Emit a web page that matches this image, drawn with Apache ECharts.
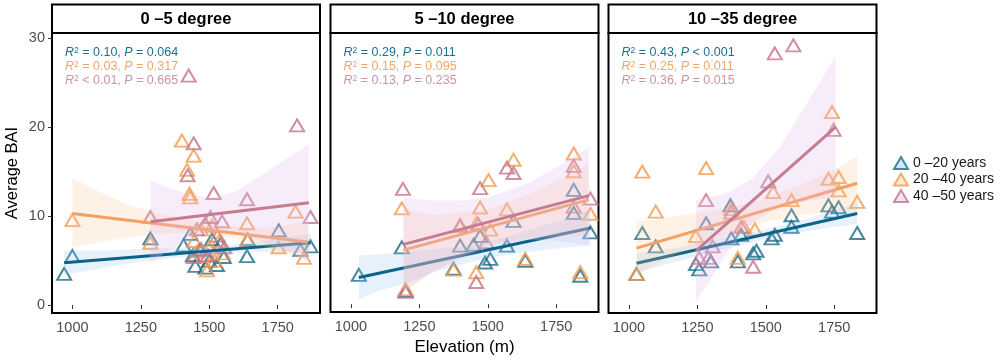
<!DOCTYPE html>
<html><head><meta charset="utf-8">
<script src="https://cdn.jsdelivr.net/npm/echarts@6/dist/echarts.min.js"></script>
<style>html,body{margin:0;padding:0;background:#fff}#c{width:1000px;height:361px}</style>
</head><body><div id="c"></div>
<script>
// ---------- data ----------
const panelTitles = ['0 \u20135 degree', '5 \u201310 degree', '10 \u201335 degree'];
const groupNames = ['0 \u201320 years', '20 \u201340 years', '40 \u201350 years'];
const xTicks = [1000, 1250, 1500, 1750];
const yTicks = [0, 10, 20, 30];

// points: [elevation (m), average BAI]
const p1_g1 = [[970,3.5],[1000,5.5],[1285,7.5],[1406,6.7],[1431,8.0],[1440,5.6],[1449,4.4],[1465,6.2],[1486,4.2],[1500,5.0],[1510,7.4],[1528,4.5],[1541,6.9],[1553,5.4],[1638,5.5],[1640,7.4],[1754,8.4],[1833,6.2],[1870,6.6]];
const p1_g2 = [[1000,9.55],[1285,7.0],[1400,18.5],[1419,15.2],[1428,12.5],[1430,12.1],[1443,16.8],[1445,7.2],[1455,6.0],[1470,8.5],[1480,5.5],[1492,3.9],[1500,6.5],[1510,8.9],[1520,5.0],[1535,7.2],[1550,5.8],[1638,9.2],[1640,7.3],[1753,6.5],[1815,10.5],[1846,5.3]];
const p1_g3 = [[1285,9.9],[1421,14.6],[1425,25.8],[1443,18.2],[1443,5.4],[1455,8.5],[1470,6.3],[1485,9.2],[1495,5.6],[1504,9.9],[1516,12.6],[1530,7.8],[1547,9.4],[1555,6.5],[1638,11.9],[1821,20.2],[1870,9.9]];

const p2_g1 = [[1029,3.3],[1186,6.4],[1200,1.5],[1375,4.0],[1399,6.6],[1448,6.7],[1472,7.7],[1490,4.7],[1509,5.1],[1570,6.6],[1594,9.4],[1637,4.9],[1814,12.9],[1814,10.3],[1838,3.2],[1875,8.1]];
const p2_g2 = [[1186,10.8],[1200,1.7],[1375,3.9],[1399,8.8],[1458,3.6],[1460,9.2],[1472,10.9],[1503,14.0],[1509,8.4],[1570,10.7],[1594,16.3],[1637,5.1],[1814,17.0],[1814,15.0],[1838,3.6],[1875,10.2]];
const p2_g3 = [[1190,13.0],[1200,1.4],[1399,8.9],[1458,2.5],[1466,9.0],[1472,13.1],[1494,7.0],[1570,15.4],[1594,14.8],[1814,15.6],[1814,11.0],[1875,11.9]];

const p3_g1 = [[1028,3.5],[1049,8.1],[1098,6.6],[1245,4.6],[1257,4.0],[1282,9.2],[1300,4.9],[1371,11.2],[1374,7.5],[1398,4.9],[1410,7.9],[1454,5.8],[1466,6.1],[1521,7.5],[1533,7.9],[1594,10.1],[1594,8.8],[1729,11.2],[1742,10.5],[1766,11.0],[1834,8.1]];
const p3_g2 = [[1028,3.5],[1049,15.0],[1098,10.5],[1245,7.75],[1282,15.4],[1374,10.8],[1398,5.3],[1420,8.8],[1460,8.5],[1527,12.7],[1594,11.8],[1729,14.2],[1742,21.7],[1766,14.4],[1766,12.9],[1834,11.6]];
const p3_g3 = [[1257,5.3],[1282,11.8],[1290,5.3],[1306,6.6],[1374,10.4],[1410,8.8],[1454,4.3],[1509,13.9],[1533,28.3],[1601,29.2],[1748,19.7]];

// fitted lines: [elevation, BAI] at both ends
const fit1_g1 = [[970,4.75],[1870,7.0]];
const fit1_g2 = [[1000,10.3],[1860,7.1]];
const fit1_g3 = [[1285,9.36],[1864,11.5]];
const fit2_g1 = [[1029,3.0],[1875,8.6]];
const fit2_g2 = [[1192,6.1],[1869,11.8]];
const fit2_g3 = [[1192,6.74],[1869,12.25]];
const fit3_g1 = [[1028,4.7],[1834,10.3]];
const fit3_g2 = [[1028,6.4],[1834,13.7]];
const fit3_g3 = [[1245,6.1],[1755,20.0]];

// confidence bands: [elevation, lower, upper]
const band1_g1 = [[970,3.4,6.1],[1100,4.1,6.1],[1250,4.9,6.3],[1400,5.4,6.4],[1500,5.7,6.5],[1650,6.0,7.0],[1750,6.0,7.5],[1870,6.0,8.0]];
const band1_g2 = [[1000,6.4,14.3],[1100,7.1,12.7],[1200,7.6,11.3],[1300,8.0,10.4],[1400,8.1,9.8],[1500,7.9,9.1],[1600,7.5,8.8],[1700,6.6,8.7],[1780,5.8,9.0],[1860,5.0,9.3]];
const band1_g3 = [[1285,4.7,14.0],[1350,6.1,13.2],[1400,6.9,12.7],[1500,8.3,12.0],[1600,8.2,12.8],[1700,7.0,14.8],[1780,6.1,16.4],[1864,5.0,18.1]];
const band2_g1 = [[1029,0.5,5.5],[1100,1.5,5.6],[1200,2.3,5.9],[1300,3.6,6.2],[1400,4.45,6.45],[1500,5.2,7.0],[1650,5.9,8.3],[1760,6.3,9.4],[1875,6.6,10.6]];
const band2_g2 = [[1192,1.5,10.7],[1300,3.7,10.1],[1400,5.35,10.35],[1500,6.7,10.7],[1650,7.5,12.4],[1760,7.7,14.0],[1869,7.8,15.8]];
const band2_g3 = [[1192,1.4,12.0],[1300,3.6,11.7],[1400,5.1,11.7],[1500,6.5,12.0],[1650,7.3,13.7],[1760,7.1,15.6],[1869,6.7,17.7]];
const band3_g1 = [[1028,3.6,5.8],[1150,4.7,6.3],[1300,5.9,7.3],[1400,6.7,7.9],[1500,7.4,8.5],[1650,8.3,9.7],[1750,8.8,10.7],[1834,9.1,11.5]];
const band3_g2 = [[1028,3.4,9.4],[1150,5.4,9.9],[1300,7.2,10.6],[1400,8.4,11.2],[1500,9.4,12.0],[1650,10.2,13.8],[1750,10.5,15.2],[1834,10.7,16.7]];
const band3_g3 = [[1245,0.4,11.8],[1300,3.0,12.2],[1350,5.5,12.5],[1450,9.2,14.2],[1550,11.1,17.7],[1650,11.7,22.7],[1700,11.9,25.2],[1755,12.0,28.0]];

// regression statistics text
const r2Text = [['= 0.10','= 0.03','< 0.01'], ['= 0.29','= 0.15','= 0.13'], ['= 0.43','= 0.25','= 0.36']];
const pText  = [['= 0.064','= 0.317','= 0.665'], ['= 0.011','= 0.095','= 0.235'], ['< 0.001','= 0.011','= 0.015']];

// ---------- styling ----------
const pointColors = ['#1c6b88', '#f39a4c', '#c47489'];
const lineColors  = ['#0c6388', '#f6a060', '#c67c8f'];
const bandColors  = ['rgba(140,190,240,0.22)', 'rgba(252,190,140,0.22)', 'rgba(228,185,235,0.28)'];
const legendFill  = ['rgba(140,190,240,0.45)', 'rgba(252,190,140,0.45)', 'rgba(228,185,235,0.5)'];
const textColors  = ['#1f6f8e', '#f2a66a', '#cf94a3'];
const FONT = 'Liberation Sans, Arial, sans-serif';

const points = [[p1_g1,p1_g2,p1_g3],[p2_g1,p2_g2,p2_g3],[p3_g1,p3_g2,p3_g3]];
const fits   = [[fit1_g1,fit1_g2,fit1_g3],[fit2_g1,fit2_g2,fit2_g3],[fit3_g1,fit3_g2,fit3_g3]];
const bands  = [[band1_g1,band1_g2,band1_g3],[band2_g1,band2_g2,band2_g3],[band3_g1,band3_g2,band3_g3]];

const gridLeft = [52, 330.5, 608.5];
const gridW = 268, gridTop = 33, gridH = 280;

const grids = [], xAxes = [], yAxes = [], series = [], titles = [], graphics = [];

for (let p = 0; p < 3; p++) {
  grids.push({left: gridLeft[p], top: gridTop, width: gridW, height: gridH,
    show: true, borderColor: '#000', borderWidth: 2, backgroundColor: '#fff', containLabel: false});
  xAxes.push({type: 'value', gridIndex: p, min: 925.5, max: 1904.5,
    splitLine: {show: false}, axisLine: {show: false},
    axisTick: {show: true, length: 4, lineStyle: {color: '#333'}, customValues: xTicks},
    axisLabel: {show: true, customValues: xTicks, formatter: v => String(v), fontSize: 14.5, color: '#4d4d4d', margin: 7, fontFamily: FONT},
    name: p === 1 ? 'Elevation (m)' : '', nameLocation: 'middle', nameGap: 25,
    nameTextStyle: {fontSize: 17, color: '#000', fontFamily: FONT}});
  yAxes.push({type: 'value', gridIndex: p, min: -0.9, max: 30.6,
    splitLine: {show: false}, axisLine: {show: false},
    axisTick: {show: p === 0, length: 4, lineStyle: {color: '#333'}, customValues: yTicks},
    axisLabel: {show: p === 0, customValues: yTicks, formatter: v => String(v), fontSize: 14.5, color: '#4d4d4d', margin: 7, fontFamily: FONT},
    name: p === 0 ? 'Average BAI' : '', nameLocation: 'middle', nameGap: 31, nameRotate: 90,
    nameTextStyle: {fontSize: 16.5, color: '#000', fontFamily: FONT}});

  for (let g = 0; g < 3; g++) {
    series.push({type: 'scatter', name: groupNames[g], xAxisIndex: p, yAxisIndex: p, z: 2,
      symbol: 'triangle', symbolSize: [14, 12],
      itemStyle: {color: 'rgba(255,255,255,0)', borderColor: pointColors[g], borderWidth: 2, opacity: 0.8},
      emphasis: {disabled: true}, data: points[p][g]});
  }
  for (let g = 0; g < 3; g++) {
    const band = bands[p][g];
    const col = bandColors[g];
    series.push({type: 'custom', xAxisIndex: p, yAxisIndex: p, z: 3 + g * 2, silent: true,
      data: band,
      renderItem: function (params, api) {
        if (params.dataIndex !== 0) return null;
        const pts = [];
        for (let i = 0; i < band.length; i++) pts.push(api.coord([band[i][0], band[i][2]]));
        for (let i = band.length - 1; i >= 0; i--) pts.push(api.coord([band[i][0], band[i][1]]));
        return {type: 'polygon', shape: {points: pts, smooth: 0}, style: {fill: col}};
      }});
    series.push({type: 'line', xAxisIndex: p, yAxisIndex: p, z: 4 + g * 2, silent: true,
      showSymbol: false, symbol: 'none', data: fits[p][g],
      lineStyle: {color: lineColors[g], width: 3}});
  }

  // strip header
  graphics.push({type: 'rect', z: 100, shape: {x: gridLeft[p], y: 4.5, width: gridW, height: 28.5},
    style: {fill: '#fff', stroke: '#000', lineWidth: 2}});
  graphics.push({type: 'text', z: 101, x: gridLeft[p] + gridW / 2, y: 19,
    style: {text: panelTitles[p], font: 'bold 16.5px ' + FONT, fill: '#000', align: 'center', verticalAlign: 'middle'}});

  // stats text
  for (let g = 0; g < 3; g++) {
    const c = textColors[g];
    titles.push({left: gridLeft[p] + 13, top: 46 + g * 14, padding: 0, itemGap: 0,
      text: '{i|R}{s|2}{t| ' + r2Text[p][g] + ', }{i|P}{t| ' + pText[p][g] + '}',
      textStyle: {fontSize: 12.5, fontWeight: 'normal', fontFamily: FONT, color: c, lineHeight: 14,
        rich: {
          i: {fontStyle: 'italic', fontWeight: 'normal', fontSize: 12.5, color: c, fontFamily: FONT, lineHeight: 14},
          s: {fontSize: 8.5, fontWeight: 'normal', color: c, fontFamily: FONT, verticalAlign: 'top', lineHeight: 8},
          t: {fontSize: 12.5, fontWeight: 'normal', color: c, fontFamily: FONT, lineHeight: 14}
        }}});
  }
}

const chart = echarts.init(document.getElementById('c'), null, {renderer: 'canvas'});
chart.setOption({
  animation: false,
  backgroundColor: '#fff',
  textStyle: {fontFamily: FONT},
  title: titles,
  grid: grids,
  xAxis: xAxes,
  yAxis: yAxes,
  legend: {orient: 'vertical', left: 888, top: 151, itemWidth: 14, itemHeight: 12, itemGap: 2.5,
    textStyle: {fontSize: 14, color: '#1a1a1a', fontFamily: FONT},
    data: groupNames.map((n, g) => ({name: n, icon: 'triangle',
      itemStyle: {color: legendFill[g], borderColor: pointColors[g], borderWidth: 2}}))},
  graphic: graphics,
  series: series
});
</script></body></html>
